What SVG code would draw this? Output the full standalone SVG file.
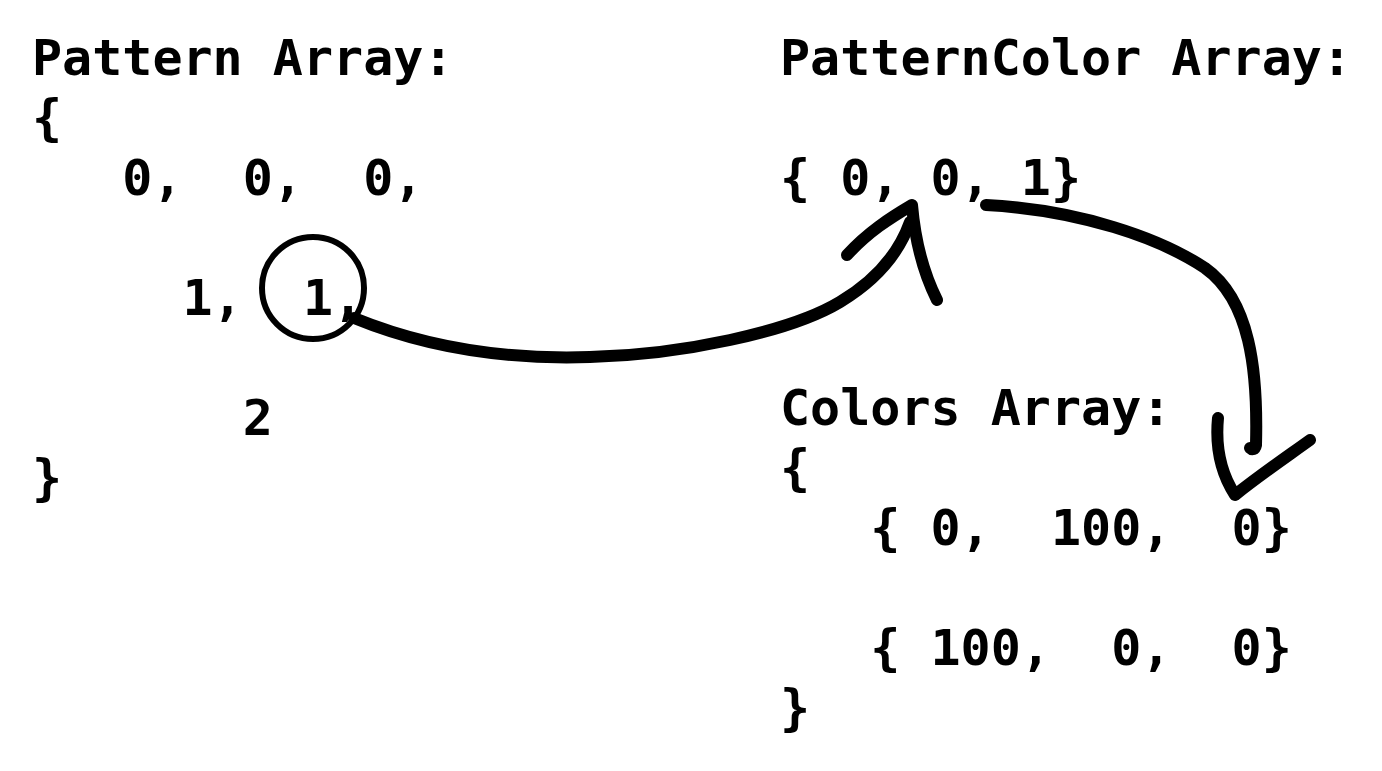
<svg xmlns="http://www.w3.org/2000/svg" width="1382" height="771" viewBox="0 0 1382 771">
<style>
.t{font-family:"DejaVu Sans Mono","Liberation Mono",monospace;font-size:50px;font-weight:bold;fill:#000;white-space:pre}
.c{fill:none;stroke:#000;stroke-linecap:round;stroke-linejoin:round;stroke-width:12}
</style>
<rect width="1382" height="771" fill="#fff"/>
<g id="pattern-array">
<text class="t" x="32" y="75" xml:space="preserve">Pattern Array:</text>
<text class="t" x="32" y="135" xml:space="preserve">{</text>
<text class="t" x="32" y="195" xml:space="preserve">   0,  0,  0,</text>
<text class="t" x="32" y="315" xml:space="preserve">     1,  1,</text>
<text class="t" x="32" y="435" xml:space="preserve">       2</text>
<text class="t" x="32" y="495" xml:space="preserve">}</text>
</g>
<g id="patterncolor-array">
<text class="t" x="780" y="75" xml:space="preserve">PatternColor Array:</text>
<text class="t" x="780" y="195" xml:space="preserve">{ 0, 0, 1}</text>
</g>
<g id="colors-array">
<text class="t" x="780" y="425" xml:space="preserve">Colors Array:</text>
<text class="t" x="780" y="485" xml:space="preserve">{</text>
<text class="t" x="780" y="545" xml:space="preserve">   { 0,  100,  0}</text>
<text class="t" x="780" y="665" xml:space="preserve">   { 100,  0,  0}</text>
<text class="t" x="780" y="725" xml:space="preserve">}</text>
</g>
<g id="highlight">
<ellipse cx="313" cy="288" rx="51" ry="51" fill="none" stroke="#000" stroke-width="6"/>
</g>
<g id="connectors">
<path class="c" d="M354,318 C420,345 500,360 590,357 C680,355 790,332 840,302 C880,278 900,250 910,222"/>
<path class="c" d="M847,255 C868,232 890,218 912,205 C915,240 922,270 937,300"/>
<path class="c" d="M986,205 C1080,210 1160,238 1205,268 C1250,300 1258,370 1256,445 C1255,450 1252,450 1250,448"/>
<path class="c" d="M1218,418 C1215,450 1222,475 1235,495 C1260,475 1285,458 1310,440"/>
</g>
</svg>
